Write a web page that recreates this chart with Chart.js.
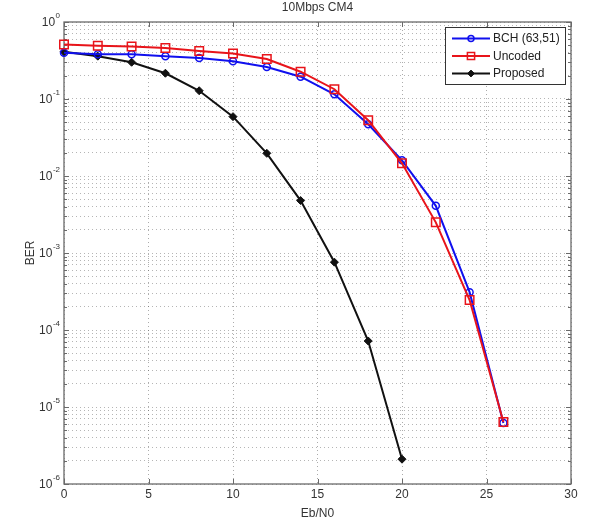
<!DOCTYPE html>
<html>
<head>
<meta charset="utf-8">
<script src="https://cdn.jsdelivr.net/npm/chart.js@4.4.1/dist/chart.umd.min.js"></script>
<style>
    html, body { margin: 0; padding: 0; background: #fff; }
    #wrap { width: 612px; height: 528px; }
</style>
</head>
<body>
<div id="wrap"><canvas id="berChart" width="612" height="528"></canvas></div>
<script>
// 图表数据
const ebn0 = [0, 2, 4, 6, 8, 10, 12, 14, 16, 18, 20, 22, 24, 26];
const proposedEbn0 = [0, 2, 4, 6, 8, 10, 12, 14, 16, 18, 20];
const berBch = [0.40, 0.38, 0.38, 0.36, 0.34, 0.31, 0.26, 0.195, 0.115, 0.047, 0.016, 0.0041, 0.00031, 0.0000062];
const berUncoded = [0.51, 0.49, 0.48, 0.46, 0.42, 0.39, 0.33, 0.226, 0.134, 0.053, 0.0146, 0.0025, 0.000245, 0.0000064];
const berProposed = [0.41, 0.36, 0.30, 0.216, 0.128, 0.059, 0.0197, 0.0048, 0.00076, 0.000072, 0.0000021];

// 坐标轴刻度与文字
const xTicks = [0, 5, 10, 15, 20, 25, 30];
const yDecades = [1e-6, 1e-5, 1e-4, 1e-3, 1e-2, 1e-1, 1];
const yExponents = ["-6", "-5", "-4", "-3", "-2", "-1", "0"];
const seriesLabels = ["BCH (63,51)", "Uncoded", "Proposed"];
const chartTitle = "10Mbps CM4";
const xTitle = "Eb/N0";
const yTitle = "BER";

const FONT = '"Liberation Sans", Arial, sans-serif';
const AXIS_COLOR = "#6a6a6a";
const TEXT_COLOR = "#333";

const toPoints = (xs, ys) => xs.map((x, i) => ({ x: x, y: ys[i] }));

// 边框、刻度线（在数据之前绘制）
const framePlugin = {
    id: "frame",
    beforeDatasetsDraw(chart) {
        const { ctx, chartArea: a, scales } = chart;
        ctx.save();
        ctx.strokeStyle = AXIS_COLOR;
        ctx.lineWidth = 1;
        ctx.setLineDash([]);
        ctx.beginPath();
        // x 方向刻度线（上下两侧，向内）
        scales.x.ticks.forEach(t => {
            const px = Math.round(scales.x.getPixelForValue(t.value)) + 0.5;
            ctx.moveTo(px, a.bottom); ctx.lineTo(px, a.bottom - 5);
            ctx.moveTo(px, a.top); ctx.lineTo(px, a.top + 5);
        });
        // y 方向刻度线（左右两侧）
        scales.y.ticks.forEach(t => {
            const py = Math.round(scales.y.getPixelForValue(t.value)) + 0.5;
            const len = t.major ? 5 : 3;
            ctx.moveTo(a.left, py); ctx.lineTo(a.left + len, py);
            ctx.moveTo(a.right, py); ctx.lineTo(a.right - len, py);
        });
        ctx.stroke();
        ctx.lineWidth = 1.3;
        ctx.strokeRect(a.left, a.top, a.right - a.left, a.bottom - a.top);
        ctx.restore();
    }
};

// 标题、刻度标签、图例
const labelPlugin = {
    id: "labels",
    afterDraw(chart) {
        const { ctx, chartArea: a, scales } = chart;
        ctx.save();
        ctx.fillStyle = TEXT_COLOR;

        // x 刻度标签
        ctx.font = "12px " + FONT;
        ctx.textAlign = "center";
        ctx.textBaseline = "top";
        xTicks.forEach(v => {
            ctx.fillText(String(v), scales.x.getPixelForValue(v), a.bottom + 5);
        });

        // y 刻度标签 10^n
        yDecades.forEach((d, i) => {
            const py = scales.y.getPixelForValue(d);
            ctx.font = "8px " + FONT;
            const expW = ctx.measureText(yExponents[i]).width;
            ctx.textAlign = "left";
            ctx.textBaseline = "alphabetic";
            const expX = a.left - 4 - expW;
            ctx.fillText(yExponents[i], expX, py - 4);
            ctx.font = "12px " + FONT;
            ctx.textAlign = "right";
            ctx.textBaseline = "middle";
            ctx.fillText("10", expX - 0.5, py + 1);
        });

        // 标题和坐标轴名称
        ctx.font = "12px " + FONT;
        ctx.textAlign = "center";
        ctx.textBaseline = "middle";
        const cx = (a.left + a.right) / 2;
        ctx.fillText(chartTitle, cx, 8);
        ctx.fillText(xTitle, cx, a.bottom + 30);
        ctx.save();
        ctx.translate(31, (a.top + a.bottom) / 2);
        ctx.rotate(-Math.PI / 2);
        ctx.fillText(yTitle, 0, 0);
        ctx.restore();

        // 图例
        const box = { x: 445.5, y: 27.5, w: 120, h: 57 };
        ctx.fillStyle = "#fff";
        ctx.fillRect(box.x, box.y, box.w, box.h);
        ctx.strokeStyle = "#333";
        ctx.lineWidth = 1;
        ctx.strokeRect(box.x, box.y, box.w, box.h);
        chart.data.datasets.forEach((ds, i) => {
            const ly = 38.5 + i * 17.5;
            ctx.strokeStyle = ds.borderColor;
            ctx.lineWidth = ds.borderWidth;
            ctx.beginPath();
            ctx.moveTo(452, ly);
            ctx.lineTo(490, ly);
            ctx.stroke();
            ctx.fillStyle = ds.pointBackgroundColor;
            ctx.strokeStyle = ds.pointBorderColor;
            ctx.lineWidth = ds.pointBorderWidth;
            Chart.helpers.drawPoint(ctx, {
                pointStyle: ds.pointStyle,
                radius: ds.pointRadius * 0.85,
                borderWidth: ds.pointBorderWidth,
                rotation: 0
            }, 471, ly);
            ctx.fillStyle = "#222";
            ctx.font = "12px " + FONT;
            ctx.textAlign = "left";
            ctx.textBaseline = "middle";
            ctx.fillText(ds.label, 493, ly + 0.5);
        });
        ctx.restore();
    }
};

const ctx = document.getElementById("berChart").getContext("2d");
new Chart(ctx, {
    type: "line",
    data: {
        datasets: [
            {
                label: seriesLabels[0],
                data: toPoints(ebn0, berBch),
                borderColor: "#1010ee",
                borderWidth: 2,
                pointStyle: "circle",
                pointRadius: 3.5,
                pointBorderWidth: 1.5,
                pointBorderColor: "#1010ee",
                pointBackgroundColor: "rgba(0,0,0,0)",
                tension: 0,
                clip: false,
                order: 2
            },
            {
                label: seriesLabels[1],
                data: toPoints(ebn0, berUncoded),
                borderColor: "#e8141a",
                borderWidth: 2,
                pointStyle: "rect",
                pointRadius: 6,
                pointBorderWidth: 1.5,
                pointBorderColor: "#e8141a",
                pointBackgroundColor: "rgba(0,0,0,0)",
                tension: 0,
                clip: false,
                order: 1
            },
            {
                label: seriesLabels[2],
                data: toPoints(proposedEbn0, berProposed),
                borderColor: "#111",
                borderWidth: 2,
                pointStyle: "rectRot",
                pointRadius: 4,
                pointBorderWidth: 1,
                pointBorderColor: "#111",
                pointBackgroundColor: "#111",
                tension: 0,
                clip: false,
                order: 3
            }
        ]
    },
    options: {
        responsive: false,
        animation: false,
        layout: { padding: { left: 64, top: 22, right: 41, bottom: 44 } },
        plugins: {
            legend: { display: false },
            title: { display: false },
            tooltip: { enabled: false }
        },
        scales: {
            x: {
                type: "linear",
                min: 0,
                max: 30,
                afterBuildTicks: scale => {
                    scale.ticks = xTicks.map(v => ({ value: v }));
                },
                ticks: { display: false },
                grid: { color: "rgba(70,70,70,0.45)", lineWidth: 1, drawTicks: false },
                border: { display: false, dash: [1, 3] }
            },
            y: {
                type: "logarithmic",
                min: 1e-6,
                max: 1,
                afterBuildTicks: scale => {
                    const ticks = [];
                    yDecades.forEach((d, i) => {
                        ticks.push({ value: d, major: true });
                        if (i < yDecades.length - 1) {
                            for (let k = 2; k <= 9; k++) ticks.push({ value: d * k, major: false });
                        }
                    });
                    scale.ticks = ticks;
                },
                ticks: { display: false, autoSkip: false },
                grid: { color: "rgba(70,70,70,0.4)", lineWidth: 1, drawTicks: false },
                border: { display: false, dash: [1, 3] }
            }
        }
    },
    plugins: [framePlugin, labelPlugin]
});
</script>
</body>
</html>
